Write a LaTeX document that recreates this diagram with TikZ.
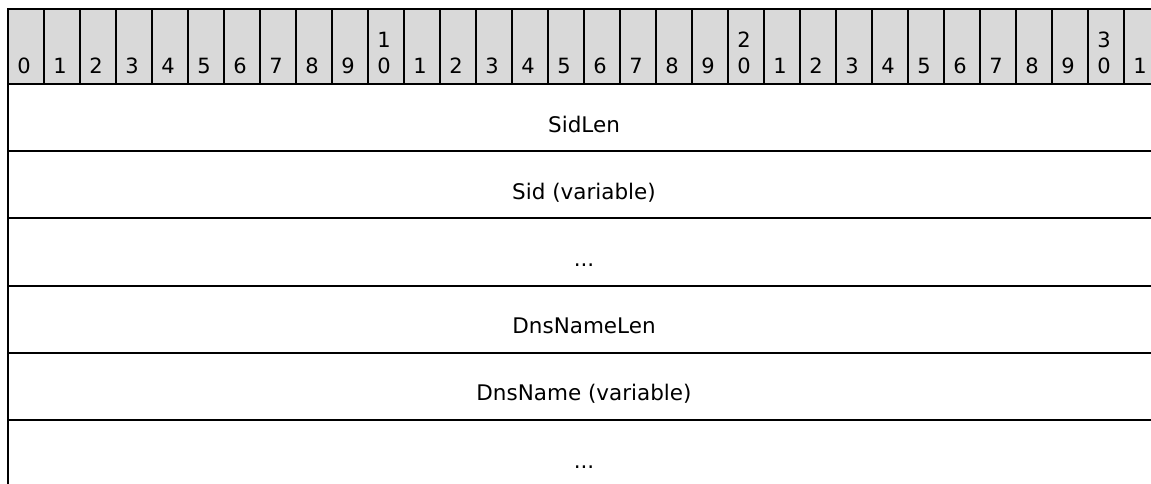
\documentclass[tikz,border=0pt]{standalone}
\usepackage{fontspec}
\setmainfont{DejaVu Sans}
\definecolor{hdrgray}{RGB}{217,217,217}
\begin{document}
\begin{tikzpicture}[x=1pt,y=-1pt,
    bit/.style={anchor=base,inner sep=0pt,font=\fontsize{21}{25}\selectfont},
    field/.style={anchor=base,inner sep=0pt,font=\fontsize{21.5}{26}\selectfont},
    rule/.style={line width=2pt},
    tick/.style={line width=1.3pt}]
    \useasboundingbox (0,0) rectangle (1151,483);
    % header with bit numbers
    \fill [hdrgray] (8,9) rectangle (1160,84);
    \foreach \i in {0,...,31} {
        \pgfmathtruncatemacro{\units}{mod(\i,10)}
        \pgfmathtruncatemacro{\tens}{\i/10}
        \node [bit] (h\i) at (8+36*\i+16,73) {\units};
        \ifnum\units=0 \ifnum\i>0
            \node [bit] (t\i) at (8+36*\i+16,47) {\tens};
        \fi\fi
    }
    \foreach \i in {1,...,32}
        \draw [tick] (8+36*\i,9) -- (8+36*\i,84);
    % fields
    \node [field] (sidlen) at (584,132) {SidLen};
    \node [field] (sid) at (584,199.2) {Sid (variable)};
    \node [field] (sidmore) at (584,266.4) {...};
    \node [field] (dnslen) at (584,333.6) {DnsNameLen};
    \node [field] (dns) at (584,400.8) {DnsName (variable)};
    \node [field] (dnsmore) at (584,468) {...};
    % frame
    \draw [rule] (8,9) -- (1160,9);
    \foreach \y in {84,151.2,218.4,285.6,352.8,420}
        \draw [rule] (8,\y) -- (1160,\y);
    \draw [rule] (8,8) -- (8,490);
\end{tikzpicture}
\end{document}
